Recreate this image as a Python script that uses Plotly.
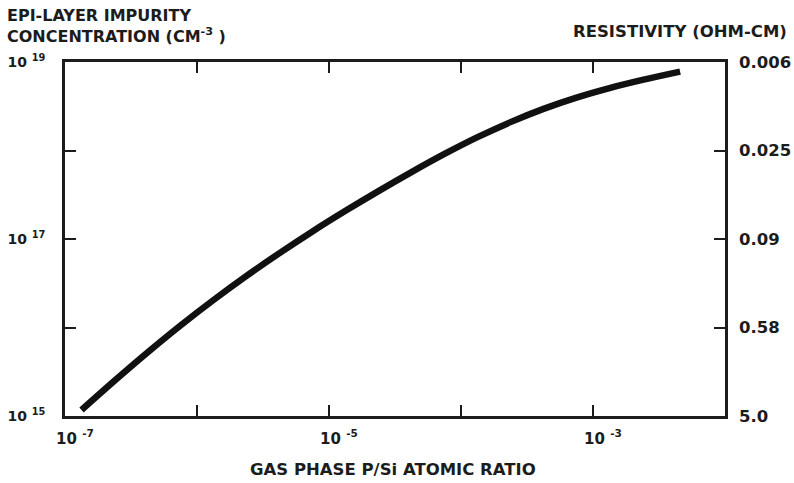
import plotly.graph_objects as go

# Curve (gas-phase ratio vs. epi-layer concentration)
ratio = [1.334e-7, 2.371e-7, 4.217e-7, 7.499e-7, 1.334e-6, 2.371e-6, 4.217e-6,
         7.499e-6, 1.334e-5, 2.371e-5, 4.217e-5, 7.499e-5, 1.334e-4, 2.371e-4,
         4.217e-4, 7.499e-4, 1.334e-3, 2.371e-3, 4.571e-3]
conc = [1.17e15, 2.50e15, 5.22e15, 1.054e16, 2.044e16, 3.828e16, 6.926e16,
        1.218e17, 2.080e17, 3.472e17, 5.694e17, 9.131e17, 1.414e18, 2.092e18,
        2.954e18, 3.963e18, 5.076e18, 6.281e18, 7.798e18]

x_tickvals = [1e-7, 1e-6, 1e-5, 1e-4, 1e-3, 1e-2]
x_ticktext = ["10 <sup>-7</sup>", "", "10 <sup>-5</sup>", "", "10 <sup>-3</sup>", ""]
y_tickvals = [1e15, 1e16, 1e17, 1e18, 1e19]
y_ticktext = ["10 <sup>15</sup>", "", "10 <sup>17</sup>", "", "10 <sup>19</sup>"]
res_ticktext = ["5.0", "0.58", "0.09", "0.025", "0.006"]

FONT = "DejaVu Sans Bold, DejaVu Sans, Arial, sans-serif"
INK = "#1c1c1c"

fig = go.Figure()
fig.add_trace(go.Scatter(x=ratio, y=conc, mode="lines",
                         line=dict(color="#111111", width=6.5, shape="spline",
                                   smoothing=1.0),
                         showlegend=False, hoverinfo="skip"))
# invisible trace to activate the right axis
fig.add_trace(go.Scatter(x=[ratio[0]], y=[conc[0]], yaxis="y2", mode="markers",
                         marker=dict(opacity=0), showlegend=False, hoverinfo="skip"))

axis_common = dict(showline=True, linecolor=INK, linewidth=2.5, showgrid=False,
                   zeroline=False, ticks="inside", ticklen=11, tickwidth=1.5,
                   tickcolor=INK, automargin=False)

def tfont(size):
    return dict(family=FONT, size=size, color=INK, weight="bold")

fig.update_layout(
    width=794, height=483,
    margin=dict(l=65, r=69, t=62, b=67),
    paper_bgcolor="white", plot_bgcolor="white",
    xaxis=dict(type="log", range=[-7, -2], tickmode="array", tickvals=x_tickvals,
               ticktext=x_ticktext, mirror="ticks", ticklabelstandoff=7,
               ticklabelshift=10, tickfont=tfont(15), **axis_common),
    yaxis=dict(type="log", range=[15, 19], tickmode="array", tickvals=y_tickvals,
               ticktext=y_ticktext, ticklabelstandoff=14,
               tickfont=tfont(14), **axis_common),
    yaxis2=dict(type="log", range=[15, 19], overlaying="y", side="right",
                tickmode="array", tickvals=y_tickvals, ticktext=res_ticktext,
                ticklabelstandoff=8, tickfont=tfont(16.5), **axis_common),
    annotations=[
        dict(text="EPI-LAYER IMPURITY<br>CONCENTRATION (CM<sup>-3</sup> )",
             xref="paper", yref="paper", x=-0.091, y=1.165, xanchor="left",
             yanchor="top", align="left", showarrow=False, font=tfont(16)),
        dict(text="RESISTIVITY (OHM-CM)", xref="paper", yref="paper",
             x=1.097, y=1.12, xanchor="right", yanchor="top", showarrow=False,
             font=tfont(16.5)),
        dict(text="GAS PHASE P/Si ATOMIC RATIO", xref="paper", yref="paper",
             x=0.497, y=-0.12, xanchor="center", yanchor="top", showarrow=False,
             font=tfont(16.5)),
    ],
)

fig.write_html("out.html")
